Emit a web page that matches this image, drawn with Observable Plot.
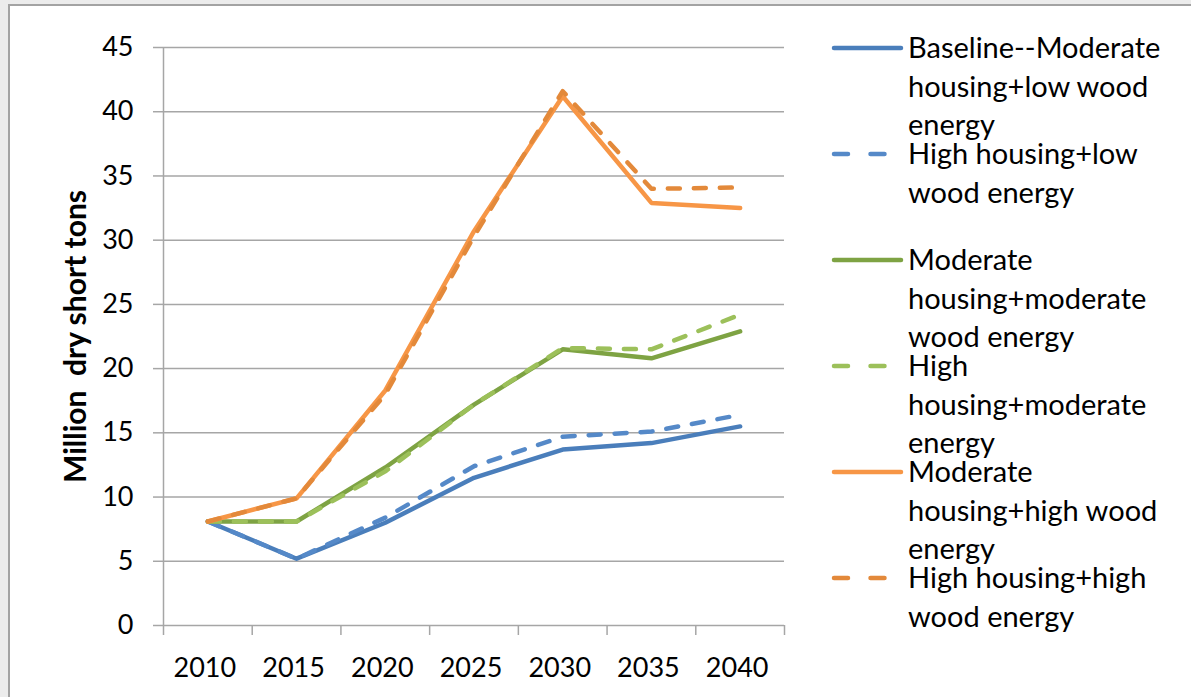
<!DOCTYPE html>
<html>
<head>
<meta charset="utf-8">
<script src="https://cdn.jsdelivr.net/npm/d3@7"></script>
<script src="https://cdn.jsdelivr.net/npm/@observablehq/plot@0.6"></script>
<style>
  html, body { margin: 0; padding: 0; width: 1191px; height: 697px; overflow: hidden; background: #ececec; }
  #frame { position: absolute; left: 8px; top: 4px; width: 1300px; height: 800px; background: #fff; border: 2px solid #a3a3a3; }
  #chart, #legend { position: absolute; left: 0; top: 0; }
  #chart svg { overflow: visible; }
</style>
</head>
<body>
<div id="frame"></div>
<div id="chart"></div>
<svg id="legend" width="1191" height="697"></svg>
<script>
// Projection years (x categories) and y-axis ticks
const years = [2010, 2015, 2020, 2025, 2030, 2035, 2040];
const yTicks = [0, 5, 10, 15, 20, 25, 30, 35, 40, 45];

// Million dry short tons, one value per year
const baselineModerateHousingLowEnergy = [8.1, 5.2, 8.0, 11.5, 13.7, 14.2, 15.5];
const highHousingLowEnergy            = [8.1, 5.2, 8.4, 12.4, 14.7, 15.1, 16.4];
const moderateHousingModerateEnergy   = [8.1, 8.1, 12.3, 17.2, 21.5, 20.8, 22.9];
const highHousingModerateEnergy       = [8.1, 8.1, 12.0, 17.2, 21.6, 21.5, 24.2];
const moderateHousingHighEnergy       = [8.1, 9.9, 18.3, 30.7, 41.2, 32.9, 32.5];
const highHousingHighEnergy           = [8.1, 9.9, 18.0, 30.3, 41.6, 34.0, 34.1];

const seriesValues = [
  baselineModerateHousingLowEnergy,
  highHousingLowEnergy,
  moderateHousingModerateEnergy,
  highHousingModerateEnergy,
  moderateHousingHighEnergy,
  highHousingHighEnergy
];

// Legend text, wrapped as it is drawn
const seriesLabelLines = [
  ["Baseline--Moderate", "housing+low wood", "energy"],
  ["High housing+low", "wood energy"],
  ["Moderate", "housing+moderate", "wood energy"],
  ["High", "housing+moderate", "energy"],
  ["Moderate", "housing+high wood", "energy"],
  ["High housing+high", "wood energy"]
];
const seriesColors = ["#4a7ebb", "#5589c8", "#7ea343", "#9cc05a", "#f79646", "#e3893a"];
const seriesDashed = [false, true, false, true, false, true];

const FONT = "Lato, 'Open Sans', sans-serif";
const GRID = "#a6a6a6";

// Category band edges, where the x-axis tick marks sit
const bandEdges = years.map(y => y - 2.5).concat([years[years.length - 1] + 2.5]);

const lineMarks = seriesValues.map((vals, i) =>
  Plot.line(years.map((yr, j) => ({year: yr, value: vals[j]})), {
    x: "year",
    y: "value",
    stroke: seriesColors[i],
    strokeWidth: 4.5,
    strokeLinejoin: "round",
    strokeLinecap: "round",
    strokeDasharray: seriesDashed[i] ? "12,14" : null
  })
);

const chart = Plot.plot({
  width: 800,
  height: 697,
  marginLeft: 163,
  marginRight: 16,
  marginTop: 47,
  marginBottom: 72,
  style: {fontFamily: FONT, background: "transparent", color: "#000"},
  x: {type: "linear", domain: [bandEdges[0], bandEdges[bandEdges.length - 1]], label: null},
  y: {domain: [0, 45], label: null},
  marks: [
    Plot.gridY(yTicks, {stroke: GRID, strokeOpacity: 1, strokeWidth: 1.5}),
    Plot.ruleX([bandEdges[0]], {stroke: GRID, strokeWidth: 1.5}),
    Plot.axisY(yTicks, {tickSize: 10, tickPadding: 20, fontSize: 27, stroke: GRID, strokeWidth: 1.5, fill: "#000"}),
    Plot.axisX(bandEdges, {tickSize: 10, tickFormat: () => "", stroke: GRID, strokeWidth: 1.5}),
    Plot.axisX(years, {tickSize: 0, tickPadding: 32, fontSize: 27, dx: -3, fill: "#000", tickFormat: d => String(d)}),
    Plot.text(["Million\u00a0 dry short tons"], {
      frameAnchor: "left", dx: -87, rotate: -90, textAnchor: "middle",
      fontSize: 30, fontWeight: "bold", fill: "#000"
    }),
    ...lineMarks
  ]
});
document.getElementById("chart").appendChild(chart);

// Legend to the right of the plot
const legend = d3.select("#legend");
const entryTop = 48, entryStep = 106, lineStep = 38.5;
seriesLabelLines.forEach((lines, i) => {
  const cy = entryTop + entryStep * i;
  const g = legend.append("g");
  g.append("line")
    .attr("x1", 834).attr("x2", seriesDashed[i] ? 888 : 901)
    .attr("y1", cy).attr("y2", cy)
    .attr("stroke", seriesColors[i])
    .attr("stroke-width", 4.5)
    .attr("stroke-linecap", "round")
    .attr("stroke-dasharray", seriesDashed[i] ? "14,22.5" : null);
  lines.forEach((t, j) => {
    g.append("text")
      .attr("x", 908)
      .attr("y", cy + 10 + lineStep * j)
      .attr("font-family", FONT)
      .attr("font-size", 29)
      .attr("fill", "#000")
      .text(t);
  });
});
</script>
</body>
</html>
